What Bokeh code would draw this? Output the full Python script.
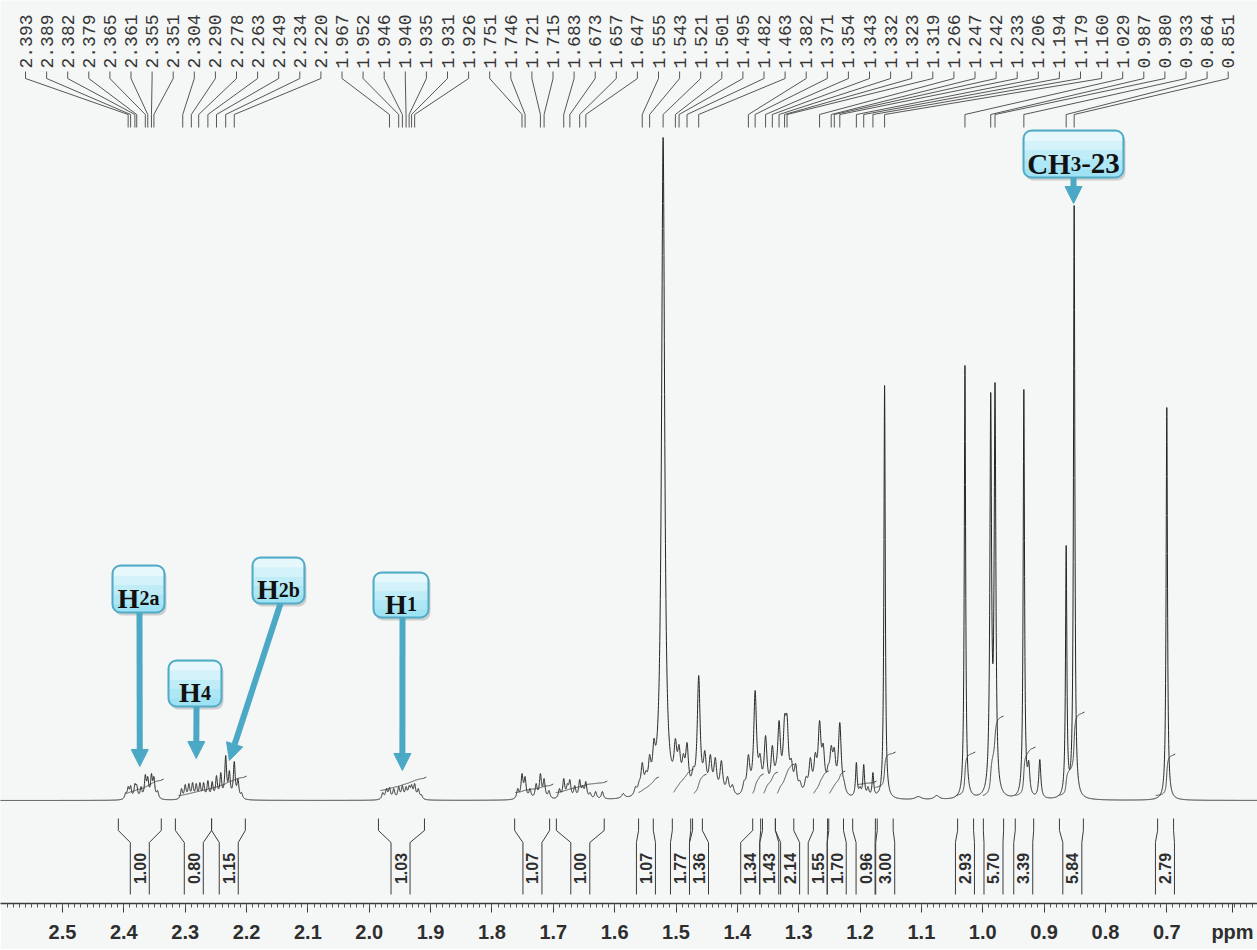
import numpy as np
from bokeh.plotting import figure
from bokeh.models import (Range1d, FixedTicker, NumeralTickFormatter, ColumnDataSource,
                          Arrow, NormalHead)
from bokeh.core.properties import value
from bokeh.embed import file_html
from bokeh.resources import INLINE

# ---------------- data ----------------
# chemical shifts printed above the spectrum (ppm)
peak_labels = [2.393, 2.389, 2.382, 2.379, 2.365, 2.361, 2.355, 2.351, 2.304, 2.290,
               2.278, 2.263, 2.249, 2.234, 2.220, 1.967, 1.952, 1.946, 1.940, 1.935,
               1.931, 1.926, 1.751, 1.746, 1.721, 1.715, 1.683, 1.673, 1.657, 1.647,
               1.555, 1.543, 1.521, 1.501, 1.495, 1.482, 1.463, 1.382, 1.371, 1.354,
               1.343, 1.332, 1.323, 1.319, 1.266, 1.247, 1.242, 1.233, 1.206, 1.194,
               1.179, 1.160, 1.029, 0.987, 0.980, 0.933, 0.864, 0.851]

# spectrum lines: position (ppm), apparent height, half width (ppm)
line_ppm = [2.397, 2.393, 2.389, 2.382, 2.379, 2.372, 2.365, 2.361, 2.355, 2.351, 2.345,
            2.306, 2.300, 2.294, 2.288, 2.282, 2.276, 2.270, 2.263, 2.256, 2.249, 2.242,
            2.234, 2.228, 2.220, 2.214, 2.208,
            1.978, 1.972, 1.967, 1.960, 1.952, 1.946, 1.940, 1.935, 1.931, 1.926, 1.920, 1.915,
            1.758, 1.751, 1.746, 1.738, 1.728, 1.721, 1.715, 1.707, 1.690, 1.683, 1.677,
            1.673, 1.665, 1.657, 1.652, 1.647, 1.640, 1.631, 1.620,
            1.586, 1.566, 1.560, 1.555, 1.549, 1.543, 1.536,
            1.521,
            1.510, 1.501, 1.495, 1.488, 1.482, 1.472, 1.463, 1.453, 1.444, 1.436, 1.426,
            1.416, 1.408,
            1.389, 1.382, 1.371, 1.363, 1.354, 1.343, 1.337, 1.332, 1.323, 1.319, 1.312,
            1.305, 1.298,
            1.288, 1.281, 1.273, 1.266, 1.260, 1.252, 1.247, 1.242, 1.233, 1.226,
            1.206, 1.200, 1.194, 1.187, 1.179, 1.172,
            1.160, 1.105, 1.075, 1.029, 1.024, 0.987, 0.980, 0.978,
            0.933, 0.925, 0.907, 0.864, 0.858, 0.851, 0.700]
line_height = [8, 14, 15, 17, 16, 14, 26, 24, 27, 24, 10,
               12, 16, 17, 18, 17, 18, 18, 20, 19, 25, 28,
               45, 30, 39, 22, 8,
               8, 12, 13, 12, 14, 15, 14, 15, 16, 17, 12, 6,
               12, 27, 24, 12, 17, 27, 22, 10, 12, 22, 17,
               21, 15, 21, 15, 19, 8, 9, 9,
               7, 14, 20, 38, 30, 46, 62,
               663,
               48, 62, 56, 47, 58, 34, 125, 50, 46, 43, 40,
               24, 16,
               20, 46, 110, 47, 65, 55, 38, 80, 86, 86, 42,
               37, 20,
               24, 43, 48, 80, 57, 36, 55, 53, 78, 20,
               38, 14, 36, 14, 28, 8,
               415, 4, 5, 435, 25, 408, 418, 30,
               411, 40, 41, 255, 30, 595, 393]
line_hwhm = ([0.002] + [0.0018] * 9 + [0.002] +
             [0.0018] * 16 +
             [0.002] * 12 +
             [0.002] * 19 +
             [0.003] + [0.0025] * 6 +
             [0.003] +
             [0.0028] * 13 +
             [0.0028] * 13 +
             [0.0028] * 10 +
             [0.0016, 0.002, 0.0016, 0.002, 0.0016, 0.002] +
             [0.0013, 0.006, 0.005, 0.0013, 0.002, 0.0016, 0.0016, 0.006,
              0.0013, 0.002, 0.002, 0.0013, 0.007, 0.0013, 0.0013])

# integrals: printed value, region (high ppm, low ppm), position of the printed value
integral_values = ["1.00", "0.80", "1.15", "1.03", "1.07", "1.00", "1.07", "1.77", "1.36",
                   "1.34", "1.43", "2.14", "1.55", "1.70", "0.96", "3.00", "2.93", "5.70",
                   "3.39", "5.84", "2.79"]
integral_start = [2.409, 2.316, 2.257, 1.985, 1.763, 1.695, 1.561, 1.506, 1.473, 1.375, 1.359,
                  1.338, 1.276, 1.251, 1.212, 1.172, 1.041, 0.999, 0.947, 0.875, 0.715]
integral_end = [2.339, 2.257, 2.202, 1.910, 1.706, 1.617, 1.537, 1.476, 1.457, 1.362, 1.338,
                1.308, 1.253, 1.227, 1.175, 1.146, 1.015, 0.966, 0.917, 0.836, 0.689]
integral_label_ppm = [2.374, 2.286, 2.229, 1.949, 1.734, 1.656, 1.549, 1.4935, 1.4625, 1.379,
                      1.348, 1.314, 1.269, 1.238, 1.191, 1.159, 1.029, 0.9825, 0.934, 0.854,
                      0.703]

# integral traces drawn over the spectrum: region and start/end level
trace_start = [2.397, 2.311, 1.982, 1.762, 1.696, 1.561, 1.504, 1.471, 1.375, 1.357, 1.335,
               1.276, 1.250, 1.204, 1.175, 1.044, 1.000, 0.947, 0.877, 0.718]
trace_end = [2.340, 2.205, 1.912, 1.705, 1.617, 1.533, 1.476, 1.455, 1.362, 1.339, 1.312,
             1.256, 1.229, 1.178, 1.147, 1.017, 0.971, 0.919, 0.839, 0.691]
trace_h0 = [7, 5, 10, 8, 8, 8, 8, 7, 7, 7, 7, 7, 7, 16, 13, 5, 5, 5, 5, 5]
trace_h1 = [20, 23, 22, 15, 18, 22, 30, 25, 25, 27, 35, 28, 28, 18, 47, 47, 83, 52, 87, 45]

# assignments
callout_pieces = [[("H", 28), ("2a", 20)],
                  [("H", 28), ("4", 20)],
                  [("H", 28), ("2b", 20)],
                  [("H", 28), ("1", 20)],
                  [("CH", 29), ("3", 21), ("-23", 29)]]
callout_target_ppm = [2.374, 2.282, 2.228, 1.946, 0.852]

tick_values = [2.5, 2.4, 2.3, 2.2, 2.1, 2.0, 1.9, 1.8, 1.7, 1.6, 1.5, 1.4, 1.3, 1.2,
               1.1, 1.0, 0.9, 0.8, 0.7]
unit_label = "ppm"

# ---------------- layout helpers ----------------
PX = 1.0 / 613.5          # ppm per screen pixel


def ppm_at(px):
    return 2.5 - (px - 62) * PX


def y_at(py):
    return 800 - py


INK = "#262626"
BG = "#f5f6f6"
TEAL = "#4ba9c5"

p = figure(frame_width=1257, frame_height=903, x_range=Range1d(ppm_at(0), ppm_at(1257)),
           y_range=Range1d(y_at(903), y_at(0)), output_backend="svg", toolbar_location=None,
           min_border=0, min_border_bottom=46, y_axis_location=None)
p.grid.visible = False
p.outline_line_color = None
p.background_fill_color = BG
p.border_fill_color = BG

# ---------------- spectrum ----------------
x = np.round(np.arange(2760, 13010) * 0.0002, 4)
P = np.array(line_ppm)
H = np.array(line_height, dtype=float)
W = np.array(line_hwhm)
A = 1.0 / (1.0 + ((P[:, None] - P[None, :]) / W[None, :]) ** 2)
active = np.ones(len(P), dtype=bool)
amp = np.zeros(len(P))
for _ in range(40):
    amp[:] = 0.0
    idx = np.where(active)[0]
    amp[idx] = np.linalg.solve(A[np.ix_(idx, idx)], H[idx])
    neg = idx[amp[idx] < 0]
    if len(neg) == 0:
        break
    active[neg] = False
amp = np.clip(amp, 0, None)
spec = np.zeros_like(x)
for a, c, w in zip(amp, P, W):
    spec += a / (1.0 + ((x - c) / w) ** 2)

p.line(x, spec, line_color=INK, line_width=1.0)

# integral traces
txs, tys = [], []
for a, b, h0, h1 in zip(trace_start, trace_end, trace_h0, trace_h1):
    m = (x <= a) & (x >= b)
    xs = x[m][::-1]
    cs = np.cumsum(spec[m][::-1])
    cs = cs / cs[-1]
    txs.append(list(xs) + [xs[-1] - 3 * PX])
    tys.append(list(h0 + (h1 - h0) * cs) + [h1 + 1.5])
p.multi_line(txs, tys, line_color="#3a3a3a", line_width=0.9)

# ---------------- peak labels at the top ----------------
n = len(peak_labels)
lab_x = [ppm_at(25 + 21.1 * i) for i in range(n)]
p.text(x=lab_x, y=[y_at(68)] * n, text=[f"{v:.3f}" for v in peak_labels], angle=np.pi / 2,
       text_align="left", text_baseline="middle", text_font=value("Liberation Mono"),
       text_font_size="18px", text_color="#363636")
p.multi_line([[lx, lx, pk, pk] for lx, pk in zip(lab_x, peak_labels)],
             [[y_at(71), y_at(78), y_at(114), y_at(127)]] * n,
             line_color="#444444", line_width=0.9)

# ---------------- integral brackets ----------------
hb = 9.5 * PX
bxs, bys = [], []
for a, b, c in zip(integral_start, integral_end, integral_label_ppm):
    bxs.append([a, a, c + hb, c + hb])
    bxs.append([b, b, c - hb, c - hb])
    bys.append([y_at(818), y_at(830), y_at(842), y_at(894)])
    bys.append([y_at(818), y_at(830), y_at(842), y_at(894)])
p.multi_line(bxs, bys, line_color="#3c3c3c", line_width=1.0)
p.text(x=integral_label_ppm, y=[y_at(868)] * len(integral_values), text=integral_values,
       angle=np.pi / 2, text_align="center", text_baseline="middle",
       text_font=value("Liberation Sans"), text_font_style="bold",
       text_font_size="16px", text_color="#2e2e2e")

# ---------------- callouts ----------------
# box (left, top, right, bottom) in screen px, arrow start px
boxes = [(112, 565, 164, 612), (168, 660, 221, 706), (252, 557, 304, 603),
         (373, 572, 428, 617), (1023, 130, 1123, 177)]
arrow_start = [(139, 612), (196, 706), (280, 603), (402, 617), (1073, 177)]
arrow_tip_py = [766, 758, 760, 770, 203]
cw = {"H": 0.778, "C": 0.722, "a": 0.5, "b": 0.556, "-": 0.333}

for (l, t, r, b) in boxes:
    p.quad(left=ppm_at(l + 2), right=ppm_at(r + 2), top=y_at(t + 3), bottom=y_at(b + 3),
           fill_color="black", fill_alpha=0.16, line_color=None, border_radius=8)
    p.quad(left=ppm_at(l), right=ppm_at(r), top=y_at(t), bottom=y_at(b),
           fill_color="#9fe2f3", line_color=None, border_radius=8)
    hgt = b - t
    for k, alpha in enumerate([0.75, 0.55, 0.35, 0.15]):
        p.quad(left=ppm_at(l + 1), right=ppm_at(r - 1), top=y_at(t + 1 + k * hgt / 5),
               bottom=y_at(t + 1 + (k + 1) * hgt / 5), fill_color="white", fill_alpha=alpha,
               line_color=None, border_radius=(7, 7, 0, 0) if k == 0 else 0)
    p.quad(left=ppm_at(l), right=ppm_at(r), top=y_at(t), bottom=y_at(b),
           fill_alpha=0, line_color="#52abc6", line_width=2, border_radius=8)

for (sx, sy), tip, tgt in zip(arrow_start, arrow_tip_py, callout_target_ppm):
    p.add_layout(Arrow(end=NormalHead(size=17, fill_color=TEAL, line_color=TEAL, line_width=1),
                       x_start=ppm_at(sx), y_start=y_at(sy), x_end=tgt, y_end=y_at(tip),
                       line_color=TEAL, line_width=6))

tx, ty, tt, ts, to = [], [], [], [], []
for (l, t, r, b), pieces in zip(boxes, callout_pieces):
    widths = [sum(cw.get(ch, 0.5) for ch in s) * sz for s, sz in pieces]
    total = sum(widths)
    cx = (l + r) / 2
    main = pieces[0][1]
    base = (t + b) / 2 + 0.662 * main / 2
    off = -total / 2
    for (s, sz), w in zip(pieces, widths):
        tx.append(ppm_at(cx))
        ty.append(y_at(base))
        tt.append(s)
        ts.append(f"{sz}px")
        to.append(off)
        off += w
src = ColumnDataSource(dict(x=tx, y=ty, text=tt, size=ts, off=to))
p.text(x="x", y="y", text="text", source=src, text_font_size="size", x_offset="off",
       text_align="left", text_baseline="alphabetic", text_font=value("Liberation Serif"),
       text_font_style="bold", text_color="#111111")

# ---------------- axis ----------------
ax = p.xaxis[0]
unit_pos = ppm_at(1232)
minor = [round(2.59 - 0.01 * i, 2) for i in range(204)]
ax.ticker = FixedTicker(ticks=tick_values + [unit_pos], minor_ticks=minor)
ax.formatter = NumeralTickFormatter(format="0.0")
ax.major_label_overrides = {unit_pos: unit_label}
ax.major_label_text_font = "Liberation Sans"
ax.major_label_text_font_style = "bold"
ax.major_label_text_font_size = "20px"
ax.major_label_text_color = "#2e2e2e"
ax.major_label_standoff = 8
ax.major_tick_out = 9
ax.major_tick_in = 0
ax.minor_tick_out = 4
ax.minor_tick_in = 0
ax.axis_line_color = "#3a3a3a"
ax.axis_line_width = 1.5
ax.major_tick_line_color = "#3a3a3a"
ax.minor_tick_line_color = "#555555"

open("out.html", "w").write(file_html(p, INLINE))
